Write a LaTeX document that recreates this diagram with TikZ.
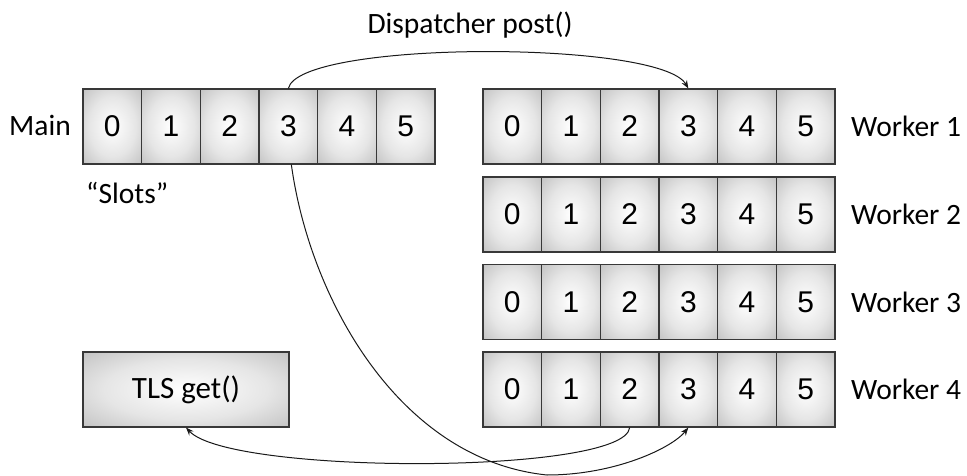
\documentclass[tikz,border=0pt]{standalone}
\usepackage{fontspec}
\setmainfont{Carlito}
\newfontfamily\digitfont{Liberation Sans}
\usetikzlibrary{arrows.meta,calc}
\pgfdeclareradialshading{cellshade}{\pgfpoint{0bp}{0bp}}{color(0bp)=(white); color(20bp)=(black!10); color(50bp)=(black!36)}
\begin{document}
\begin{tikzpicture}[x=1pt,y=-1pt,
  cell/.style={draw=black!78, line width=1.1pt, shading=cellshade, minimum width=58.67pt, minimum height=75pt, inner sep=0pt, font=\digitfont\fontsize{30}{30}\selectfont},
  lbl/.style={font=\fontsize{29.5}{30}\selectfont, inner sep=0pt},
  conn/.style={line width=1pt, draw=black!90, -{Stealth[length=8pt,width=6pt]}}]
\useasboundingbox (0,0) rectangle (967,476);
% main row
\foreach \i in {0,...,5} {
  \node[cell] (m\i) at ({83+58.67*(\i+0.5)},126.5) {\raisebox{-1.5pt}{\i}};
}
% worker rows
\foreach \r/\y in {1/126.5,2/214.5,3/302,4/389.5} {
  \foreach \i in {0,...,5} {
    \node[cell] (w\r c\i) at ({483+58.67*(\i+0.5)},\y) {\raisebox{-1.5pt}{\i}};
  }
  \node[lbl, anchor=west] (wl\r) at (851,\y) {Worker \r};
}
\node[lbl, anchor=east] (mainlbl) at (71,125) {Main};
\node[lbl, anchor=west] (slots) at (86,193) {“Slots”};
\node[lbl] (disp) at (470,25) {Dispatcher post()};
\node[cell, minimum width=206pt, font=\fontsize{31}{31}\selectfont] (tls) at (186,389.5) {TLS get()};
% connectors
\draw[conn] (m3.north) .. controls (299,40) and (660,40) .. (w1c3.north);
\coordinate (low) at (547,475);
\draw[conn] ([xshift=3pt]m3.south) .. controls (310,300) and (400,460) .. (low) .. controls (615,475) and (672,448) .. (w4c3.south);
\draw[conn] (w4c2.south) .. controls (625,475) and (230,475) .. (tls.south);
\end{tikzpicture}
\end{document}
